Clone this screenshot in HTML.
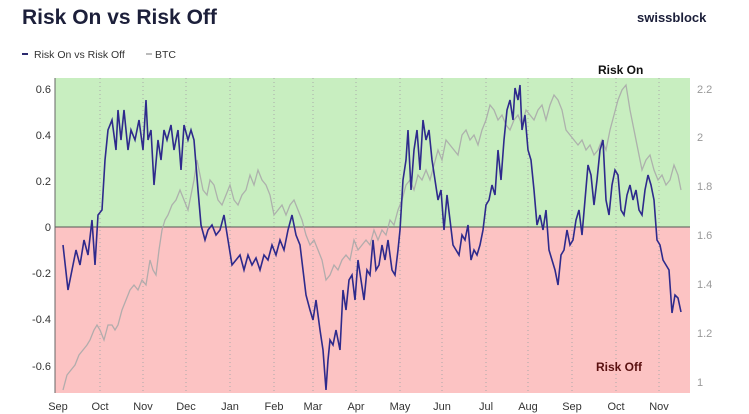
<!DOCTYPE html>
<html><head><meta charset="utf-8"><style>
html,body{margin:0;padding:0;background:#fff;width:749px;height:414px;overflow:hidden;font-family:"Liberation Sans",sans-serif}
</style></head><body>
<svg width="749" height="414" xmlns="http://www.w3.org/2000/svg" font-family="Liberation Sans, sans-serif">
<text x="22" y="24" font-size="21" font-weight="bold" fill="#1c1f3a">Risk On vs Risk Off</text>
<text x="637" y="22" font-size="13" font-weight="bold" fill="#1c1f3a">swissblock</text>
<rect x="22" y="53" width="6" height="2" fill="#2b2a6e"/>
<text x="34" y="58" font-size="10.5" fill="#333">Risk On vs Risk Off</text>
<rect x="146" y="53" width="6" height="2" fill="#bbb"/>
<text x="155" y="58" font-size="10.5" fill="#333">BTC</text>
<rect x="55" y="78" width="635" height="149" fill="#c8eec0"/>
<rect x="55" y="227" width="635" height="166" fill="#fcc3c3"/>
<g stroke="#aaa" stroke-dasharray="1,3" stroke-width="1">
<line x1="100" y1="78" x2="100" y2="393"/><line x1="143" y1="78" x2="143" y2="393"/><line x1="186" y1="78" x2="186" y2="393"/><line x1="230" y1="78" x2="230" y2="393"/><line x1="274" y1="78" x2="274" y2="393"/><line x1="313" y1="78" x2="313" y2="393"/><line x1="356" y1="78" x2="356" y2="393"/><line x1="400" y1="78" x2="400" y2="393"/><line x1="442" y1="78" x2="442" y2="393"/><line x1="486" y1="78" x2="486" y2="393"/><line x1="528" y1="78" x2="528" y2="393"/><line x1="572" y1="78" x2="572" y2="393"/><line x1="616" y1="78" x2="616" y2="393"/><line x1="659" y1="78" x2="659" y2="393"/>
</g>
<line x1="55" y1="227" x2="690" y2="227" stroke="#555" stroke-width="1"/>
<line x1="55" y1="78" x2="55" y2="393" stroke="#666"/>
<g font-size="11" fill="#333" text-anchor="end">
<text x="51" y="93">0.6</text><text x="51" y="139">0.4</text><text x="51" y="185">0.2</text><text x="51" y="231">0</text><text x="51" y="277">-0.2</text><text x="51" y="323">-0.4</text><text x="51" y="370">-0.6</text>
</g>
<g font-size="11" fill="#999">
<text x="697" y="93">2.2</text><text x="697" y="141">2</text><text x="697" y="190">1.8</text><text x="697" y="239">1.6</text><text x="697" y="288">1.4</text><text x="697" y="337">1.2</text><text x="697" y="386">1</text>
</g>
<g font-size="11" fill="#333" text-anchor="middle">
<text x="58" y="410">Sep</text><text x="100" y="410">Oct</text><text x="143" y="410">Nov</text><text x="186" y="410">Dec</text><text x="230" y="410">Jan</text><text x="274" y="410">Feb</text><text x="313" y="410">Mar</text><text x="356" y="410">Apr</text><text x="400" y="410">May</text><text x="442" y="410">Jun</text><text x="486" y="410">Jul</text><text x="528" y="410">Aug</text><text x="572" y="410">Sep</text><text x="616" y="410">Oct</text><text x="659" y="410">Nov</text>
</g>
<polyline fill="none" stroke="#aaa" stroke-width="1.3" opacity="0.9" points="63,390 67,375 71,370 75,365 79,355 83,350 87,345 90,340 94,330 97,325 100,330 104,340 108,325 112,325 115,330 118,325 122,310 126,300 130,290 134,285 138,290 142,280 146,285 150,260 153,270 156,275 159,250 162,230 165,220 168,215 172,205 176,200 180,190 184,200 188,210 191,195 194,180 197,160 200,175 203,190 207,195 210,180 214,185 218,200 222,205 226,195 230,185 234,200 238,205 242,195 246,190 250,175 254,185 258,170 262,180 266,185 270,195 274,215 278,210 282,205 286,215 290,205 294,200 298,210 302,220 306,235 310,245 314,240 318,250 322,260 326,280 330,275 334,265 338,270 342,260 346,255 350,260 354,240 358,250 362,245 366,240 370,245 374,230 378,240 382,230 386,235 390,220 394,225 398,210 402,200 406,185 410,180 414,190 418,175 422,180 426,170 430,180 434,165 438,150 442,160 446,140 450,145 454,150 458,155 462,135 466,130 470,140 474,135 478,145 482,130 486,120 490,105 494,110 498,120 502,115 506,125 510,130 514,120 518,115 522,125 526,110 530,115 534,120 538,110 542,105 546,120 550,105 554,95 558,100 562,110 566,130 570,135 574,140 578,145 582,140 586,150 590,145 594,155 598,150 602,140 606,150 610,130 614,115 618,100 622,90 626,85 630,110 634,130 638,150 642,170 646,160 650,155 654,170 658,180 662,175 666,185 670,180 674,165 678,175 681,190"/>
<polyline fill="none" stroke="#2e2a8c" stroke-width="1.6" points="63,245 68,290 72,270 76,250 80,265 84,240 88,255 92,220 95,265 98,215 102,210 105,160 108,130 112,120 116,150 118,110 121,140 124,110 128,150 131,130 135,140 139,120 143,150 146,100 148,140 151,130 154,185 158,140 161,160 164,130 167,140 171,125 174,150 178,130 181,170 184,125 188,140 191,130 194,140 198,190 201,225 205,240 208,230 212,225 216,235 220,230 224,215 228,240 232,265 236,260 240,255 244,270 248,255 252,265 256,258 260,270 264,255 268,260 272,245 276,255 280,240 284,250 288,230 292,215 296,235 300,245 303,270 306,295 310,310 313,320 316,300 320,330 323,350 326,390 328,360 330,340 333,345 336,330 340,350 343,290 346,310 349,280 352,275 355,300 358,260 361,280 364,300 367,270 370,275 373,240 376,270 379,265 382,245 385,260 388,240 392,270 395,275 398,250 400,230 403,180 406,160 408,130 411,190 414,150 417,130 420,170 423,120 426,140 429,130 432,160 435,180 438,200 441,190 444,230 447,195 450,220 453,245 456,250 459,255 462,235 465,240 468,225 471,260 474,250 477,255 480,245 483,230 486,205 489,200 492,185 495,195 498,150 501,180 504,140 507,110 510,100 513,120 515,88 518,100 520,85 522,130 525,115 528,150 531,160 534,190 537,225 540,215 543,230 546,210 549,250 552,260 555,270 558,285 561,255 564,250 567,230 570,245 573,240 576,220 579,210 582,235 585,200 588,165 591,175 594,205 597,180 600,150 603,140 606,200 609,215 612,185 615,170 618,175 621,210 624,215 627,195 630,185 633,200 636,190 639,210 642,215 645,190 648,175 651,185 654,200 657,240 660,245 663,260 666,265 669,270 672,313 675,295 678,298 681,312"/>
<text x="598" y="74" font-size="12" font-weight="bold" fill="#111">Risk On</text>
<text x="596" y="371" font-size="12" font-weight="bold" fill="#5a1010">Risk Off</text>
</svg>
</body></html>
